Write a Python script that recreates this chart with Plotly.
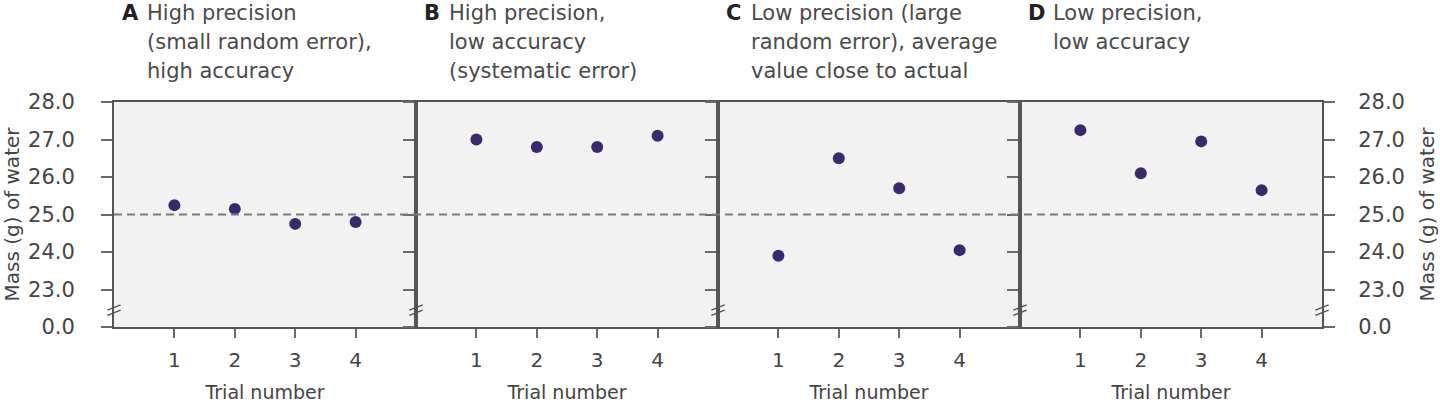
import plotly.graph_objects as go
from plotly.subplots import make_subplots

# ---- data ----
trials = [1, 2, 3, 4]
mass_a = [25.25, 25.15, 24.75, 24.8]
mass_b = [27.0, 26.8, 26.8, 27.1]
mass_c = [23.9, 26.5, 25.7, 24.05]
mass_d = [27.25, 26.1, 26.95, 25.65]
actual_value = 25.0
panel_letters = ["A", "B", "C", "D"]
panel_titles = [
    ["High precision", "(small random error),", "high accuracy"],
    ["High precision,", "low accuracy", "(systematic error)"],
    ["Low precision (large", "random error), average", "value close to actual"],
    ["Low precision,", "low accuracy"],
]
y_tickvals = [22, 23, 24, 25, 26, 27, 28]   # 22 is the position used for the broken-axis 0.0
y_ticktext = ["0.0", "23.0", "24.0", "25.0", "26.0", "27.0", "28.0"]
x_tickvals = [1, 2, 3, 4]
x_title = "Trial number"
y_title = "Mass (g) of water"

series = [mass_a, mass_b, mass_c, mass_d]

FONT = "DejaVu Sans"
FRAME = "#555555"
TICK = "#6a6a6a"
TXT = "#444444"
BG = "#f2f2f2"
PT = "#3b2a6b"

fig = make_subplots(rows=1, cols=4, horizontal_spacing=0)

for i, vals in enumerate(series):
    fig.add_trace(go.Scatter(x=trials, y=vals, mode="markers",
                             marker=dict(size=12, color=PT),
                             showlegend=False, hoverinfo="x+y"),
                  row=1, col=i + 1)

W, H = 1440, 403
ml, mr, mt, mb = 114, 118, 102, 76

for i in range(4):
    xa = dict(range=[0, 5], tickvals=x_tickvals, ticks="outside", ticklen=9,
              tickwidth=1.5, tickcolor=TICK, showline=True, linecolor=FRAME,
              linewidth=2, mirror=True, showgrid=False, zeroline=False,
              ticklabelstandoff=5, automargin=False,
              tickfont=dict(family=FONT, size=20, color=TXT),
              title=dict(text=x_title, font=dict(family=FONT, size=19, color=TXT), standoff=16),
              fixedrange=True)
    ya = dict(range=[22, 28], tickvals=y_tickvals, ticktext=y_ticktext,
              ticks="outside", ticklen=11, tickwidth=1.5, tickcolor=TICK,
              showline=True, linecolor=FRAME, linewidth=2, showgrid=False,
              zeroline=False, fixedrange=True, automargin=False,
              tickfont=dict(family=FONT, size=21, color=TXT))
    if i == 0:
        ya.update(mirror=True, showticklabels=True, ticklabelstandoff=22,
                  title=dict(text=y_title, font=dict(family=FONT, size=20, color=TXT), standoff=12))
    elif i == 3:
        ya.update(side="right", mirror="ticks", showticklabels=True, ticklabelstandoff=19,
                  title=dict(text=y_title, font=dict(family=FONT, size=20, color=TXT), standoff=16))
    else:
        ya.update(mirror=True, showticklabels=False)
    fig.update_xaxes(xa, row=1, col=i + 1)
    fig.update_yaxes(ya, row=1, col=i + 1)

# reference (actual) value dashed line
fig.add_shape(type="line", xref="paper", x0=0, x1=1, yref="y", y0=actual_value, y1=actual_value,
              line=dict(color="#7a7a7a", width=2, dash="8px,5px"), layer="above")

# axis break marks on vertical borders
def break_marks(xref, xpos):
    for dy in (-0.07, 0.07):
        fig.add_shape(type="line", xref=xref, yref="y",
                      x0=xpos - 0.022, x1=xpos + 0.022,
                      y0=22.38 + dy, y1=22.52 + dy,
                      line=dict(color=FRAME, width=1.5), layer="above")

for i in range(4):
    xr = "x domain" if i == 0 else f"x{i + 1} domain"
    break_marks(xr, 0)
break_marks("x4 domain", 1)

# panel titles
line_y = [13, 42, 71]
for i in range(4):
    xr = "x domain" if i == 0 else f"x{i + 1} domain"
    fig.add_annotation(text=f"<b>{panel_letters[i]}</b>", xref=xr, x=0, xanchor="left",
                       xshift=6, yref="paper", y=1, yanchor="middle",
                       yshift=mt - line_y[0], showarrow=False,
                       font=dict(family=FONT, size=21, color="#222222"))
    for j, line in enumerate(panel_titles[i]):
        fig.add_annotation(text=line, xref=xr, x=0, xanchor="left", xshift=31,
                           yref="paper", y=1, yanchor="middle", yshift=mt - line_y[j],
                           showarrow=False,
                           font=dict(family=FONT, size=21, color="#4a4a4a"))

fig.update_layout(width=W, height=H, margin=dict(l=ml, r=mr, t=mt, b=mb, autoexpand=False),
                  plot_bgcolor=BG, paper_bgcolor="white",
                  font=dict(family=FONT))

fig.write_html("out.html", config={"displayModeBar": False},
               post_script="document.body.style.margin='0px';")
